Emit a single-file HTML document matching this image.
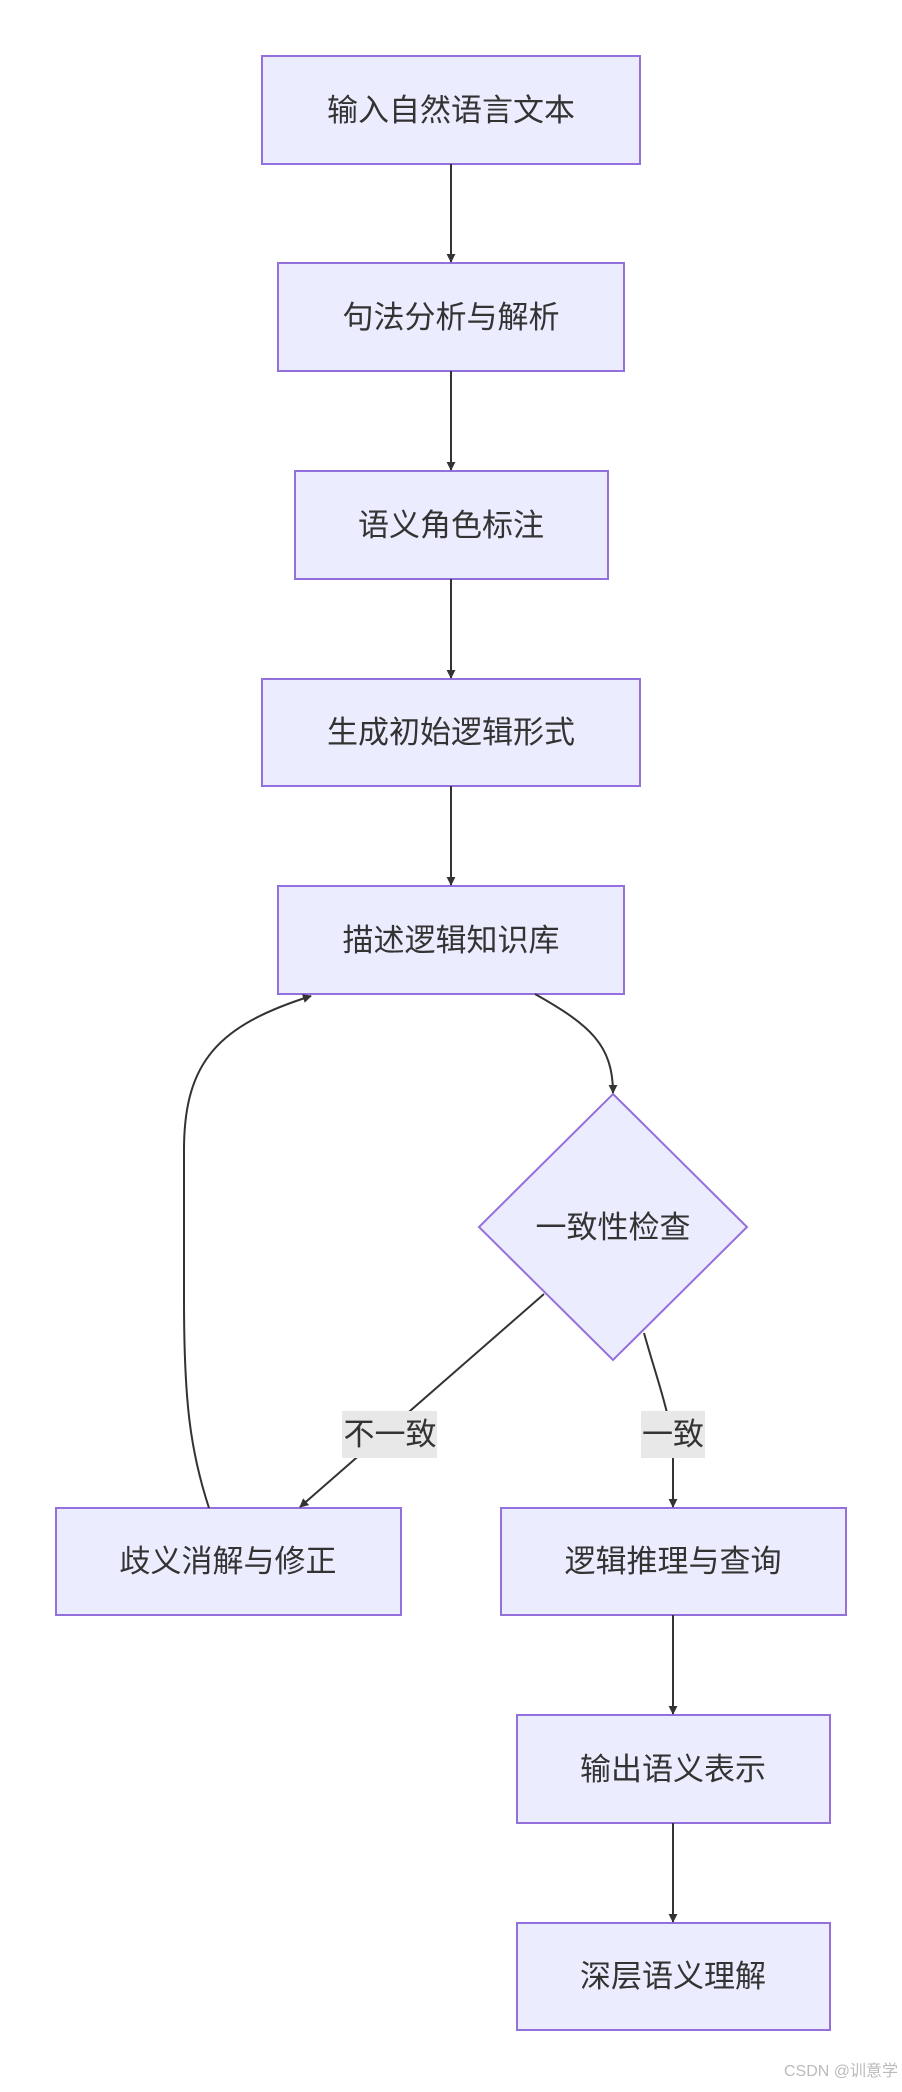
<!DOCTYPE html>
<html><head><meta charset="utf-8"><style>
html,body{margin:0;padding:0;background:#fff;}
svg text{font-family:"Liberation Sans","Noto Sans CJK SC",sans-serif;}
</style></head><body>
<svg width="902" height="2087" viewBox="0 0 902 2087" xmlns="http://www.w3.org/2000/svg">
<defs>
<marker id="a" viewBox="0 0 10 10" refX="9" refY="5" markerWidth="9" markerHeight="9" markerUnits="userSpaceOnUse" orient="auto"><path d="M0,0L10,5L0,10z" fill="#333"/></marker>
</defs>
<g fill="#ECECFF" stroke="#9370DB" stroke-width="2">
<rect x="262" y="56" width="378" height="108"/>
<rect x="278" y="263" width="346" height="108"/>
<rect x="295" y="471" width="313" height="108"/>
<rect x="262" y="679" width="378" height="107"/>
<rect x="278" y="886" width="346" height="108"/>
<polygon points="613,1094 747,1227 613,1360 479,1227"/>
<rect x="56" y="1508" width="345" height="107"/>
<rect x="501" y="1508" width="345" height="107"/>
<rect x="517" y="1715" width="313" height="108"/>
<rect x="517" y="1923" width="313" height="107"/>
</g>
<g stroke="#333" stroke-width="2" fill="none" marker-end="url(#a)">
<line x1="451" y1="164" x2="451" y2="262"/>
<line x1="451" y1="371" x2="451" y2="470"/>
<line x1="451" y1="579" x2="451" y2="678"/>
<line x1="451" y1="786" x2="451" y2="885"/>
<path d="M535,994 C590,1025 613,1045 613,1093"/>
<path d="M544,1294 L300,1507"/>
<path d="M644,1333 C660,1390 673,1420 673,1460 L673,1507"/>
<path d="M209,1508 C190,1450 184,1400 184,1300 L184,1150 C184,1060 220,1025 311,996"/>
<line x1="673" y1="1615" x2="673" y2="1714"/>
<line x1="673" y1="1823" x2="673" y2="1922"/>
</g>
<rect x="342" y="1411" width="95" height="47" fill="#e8e8e8"/>
<rect x="641" y="1411" width="64" height="47" fill="#e8e8e8"/>
<g font-size="31" fill="#333" text-anchor="middle">
<text x="451" y="121">输入自然语言文本</text>
<text x="451" y="328">句法分析与解析</text>
<text x="451" y="536">语义角色标注</text>
<text x="451" y="743">生成初始逻辑形式</text>
<text x="451" y="951">描述逻辑知识库</text>
<text x="613" y="1238">一致性检查</text>
<text x="228" y="1572">歧义消解与修正</text>
<text x="673" y="1572">逻辑推理与查询</text>
<text x="673" y="1780">输出语义表示</text>
<text x="673" y="1987">深层语义理解</text>
<text x="390" y="1445">不一致</text>
<text x="673" y="1445">一致</text>
</g>
<text x="898" y="2076" font-size="16" fill="#bbb" text-anchor="end">CSDN @训意学</text>
</svg>
</body></html>
